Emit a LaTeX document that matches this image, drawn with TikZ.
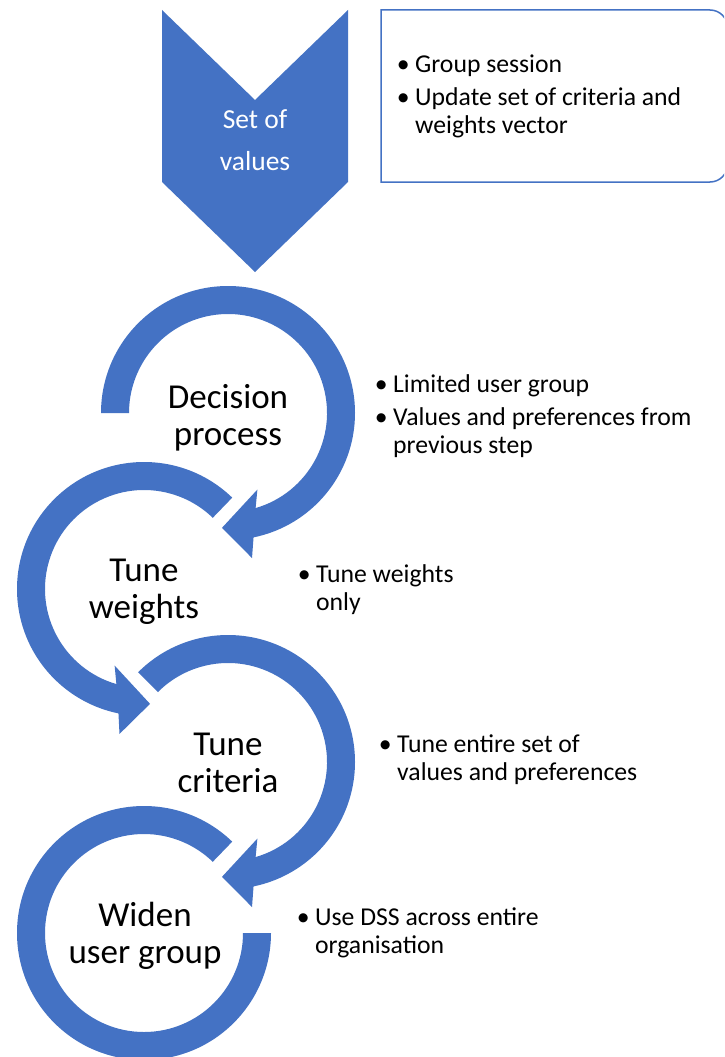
\documentclass[tikz,border=0pt]{standalone}
\usepackage{fontspec}
\setmainfont{Carlito}
\definecolor{accent}{HTML}{4472C4}
\newcommand\bulletmark{\makebox[24pt][c]{\textbullet}}
\begin{document}
\begin{tikzpicture}[x=1pt,y=1pt,
  band/.style={fill=accent},
  stage/.style={anchor=base, inner sep=0pt, font=\fontsize{35}{37}\selectfont},
  notes/.style={anchor=base west, inner sep=0pt, font=\fontsize{25.7}{28}\selectfont},
  frame/.style={draw=accent, line width=1.5pt}]
\useasboundingbox (0,0) rectangle (724,-1057);
\fill[white] (0,0) rectangle (724,-1057);
\clip (0,0) rectangle (724,-1057);

% entry chevron
\fill[band] (162,-10) -- (255,-100) -- (348,-10) -- (348,-182) -- (255,-272) -- (162,-182) -- cycle;
\node[anchor=base, inner sep=0pt, text=white, font=\fontsize{27.5}{42}\selectfont]
  (start) at (255,-128) {\begin{tabular}[t]{@{}c@{}}Set of\\values\end{tabular}};

% note frame, square on the left, rounded on the right
\draw[frame] (381,-182) -- (381,-10) -- (710,-10)
  arc[start angle=90, end angle=0, radius=17.5] -- (727.5,-164.5)
  arc[start angle=0, end angle=-90, radius=17.5] -- cycle;
\node[notes] (sessionnote) at (391,-72)
  {\begin{tabular}[t]{@{}l@{}l@{}}\bulletmark & Group session\\[5pt]
   \bulletmark & Update set of criteria and\\ & weights vector\end{tabular}};

% stage 1: clockwise loop
\begin{scope}[shift={(228,-413)}]
\fill[band] (180:127) arc[start angle=180, end angle=-78.4, radius=127]
  -- (-80.6:147) -- (-93:115) -- (-69:82) -- (-73.8:99)
  arc[start angle=-73.8, end angle=180, radius=99] -- cycle;
\end{scope}
% stage 2: counter-clockwise loop
\begin{scope}[shift={(144,-589)}]
\fill[band] (46:127) arc[start angle=46, end angle=258.4, radius=127]
  -- (260.4:147) -- (273:115) -- (249:82) -- (253.8:99)
  arc[start angle=253.8, end angle=46, radius=99] -- cycle;
\end{scope}
% stage 3: clockwise loop
\begin{scope}[shift={(228,-762)}]
\fill[band] (135:127) arc[start angle=135, end angle=-78.4, radius=127]
  -- (-80.6:147) -- (-93:115) -- (-69:82) -- (-73.8:99)
  arc[start angle=-73.8, end angle=135, radius=99] -- cycle;
\end{scope}
% stage 4: open ring, no head
\begin{scope}[shift={(144,-933)}]
\fill[band] (46:127) arc[start angle=46, end angle=360, radius=127]
  -- (360:99) arc[start angle=360, end angle=46, radius=99] -- cycle;
\end{scope}

% stage labels
\node[stage] (decide) at (228,-408) {\begin{tabular}[t]{@{}c@{}}Decision\\process\end{tabular}};
\node[stage] (weights) at (144,-581) {\begin{tabular}[t]{@{}c@{}}Tune\\weights\end{tabular}};
\node[stage] (criteria) at (228,-755) {\begin{tabular}[t]{@{}c@{}}Tune\\criteria\end{tabular}};
\node[stage] (widen) at (145,-926) {\begin{tabular}[t]{@{}c@{}}Widen\\user group\end{tabular}};

% stage notes
\node[notes] (decidenote) at (369,-392)
  {\begin{tabular}[t]{@{}l@{}l@{}}\bulletmark & Limited user group\\[5pt]
   \bulletmark & Values and preferences from\\ & previous step\end{tabular}};
\node[notes] (weightsnote) at (292,-582)
  {\begin{tabular}[t]{@{}l@{}l@{}}\bulletmark & Tune weights\\ & only\end{tabular}};
\node[notes] (criterianote) at (373,-752)
  {\begin{tabular}[t]{@{}l@{}l@{}}\bulletmark & Tune entire set of\\ & values and preferences\end{tabular}};
\node[notes] (widennote) at (291,-925)
  {\begin{tabular}[t]{@{}l@{}l@{}}\bulletmark & Use DSS across entire\\ & organisation\end{tabular}};
\end{tikzpicture}
\end{document}
